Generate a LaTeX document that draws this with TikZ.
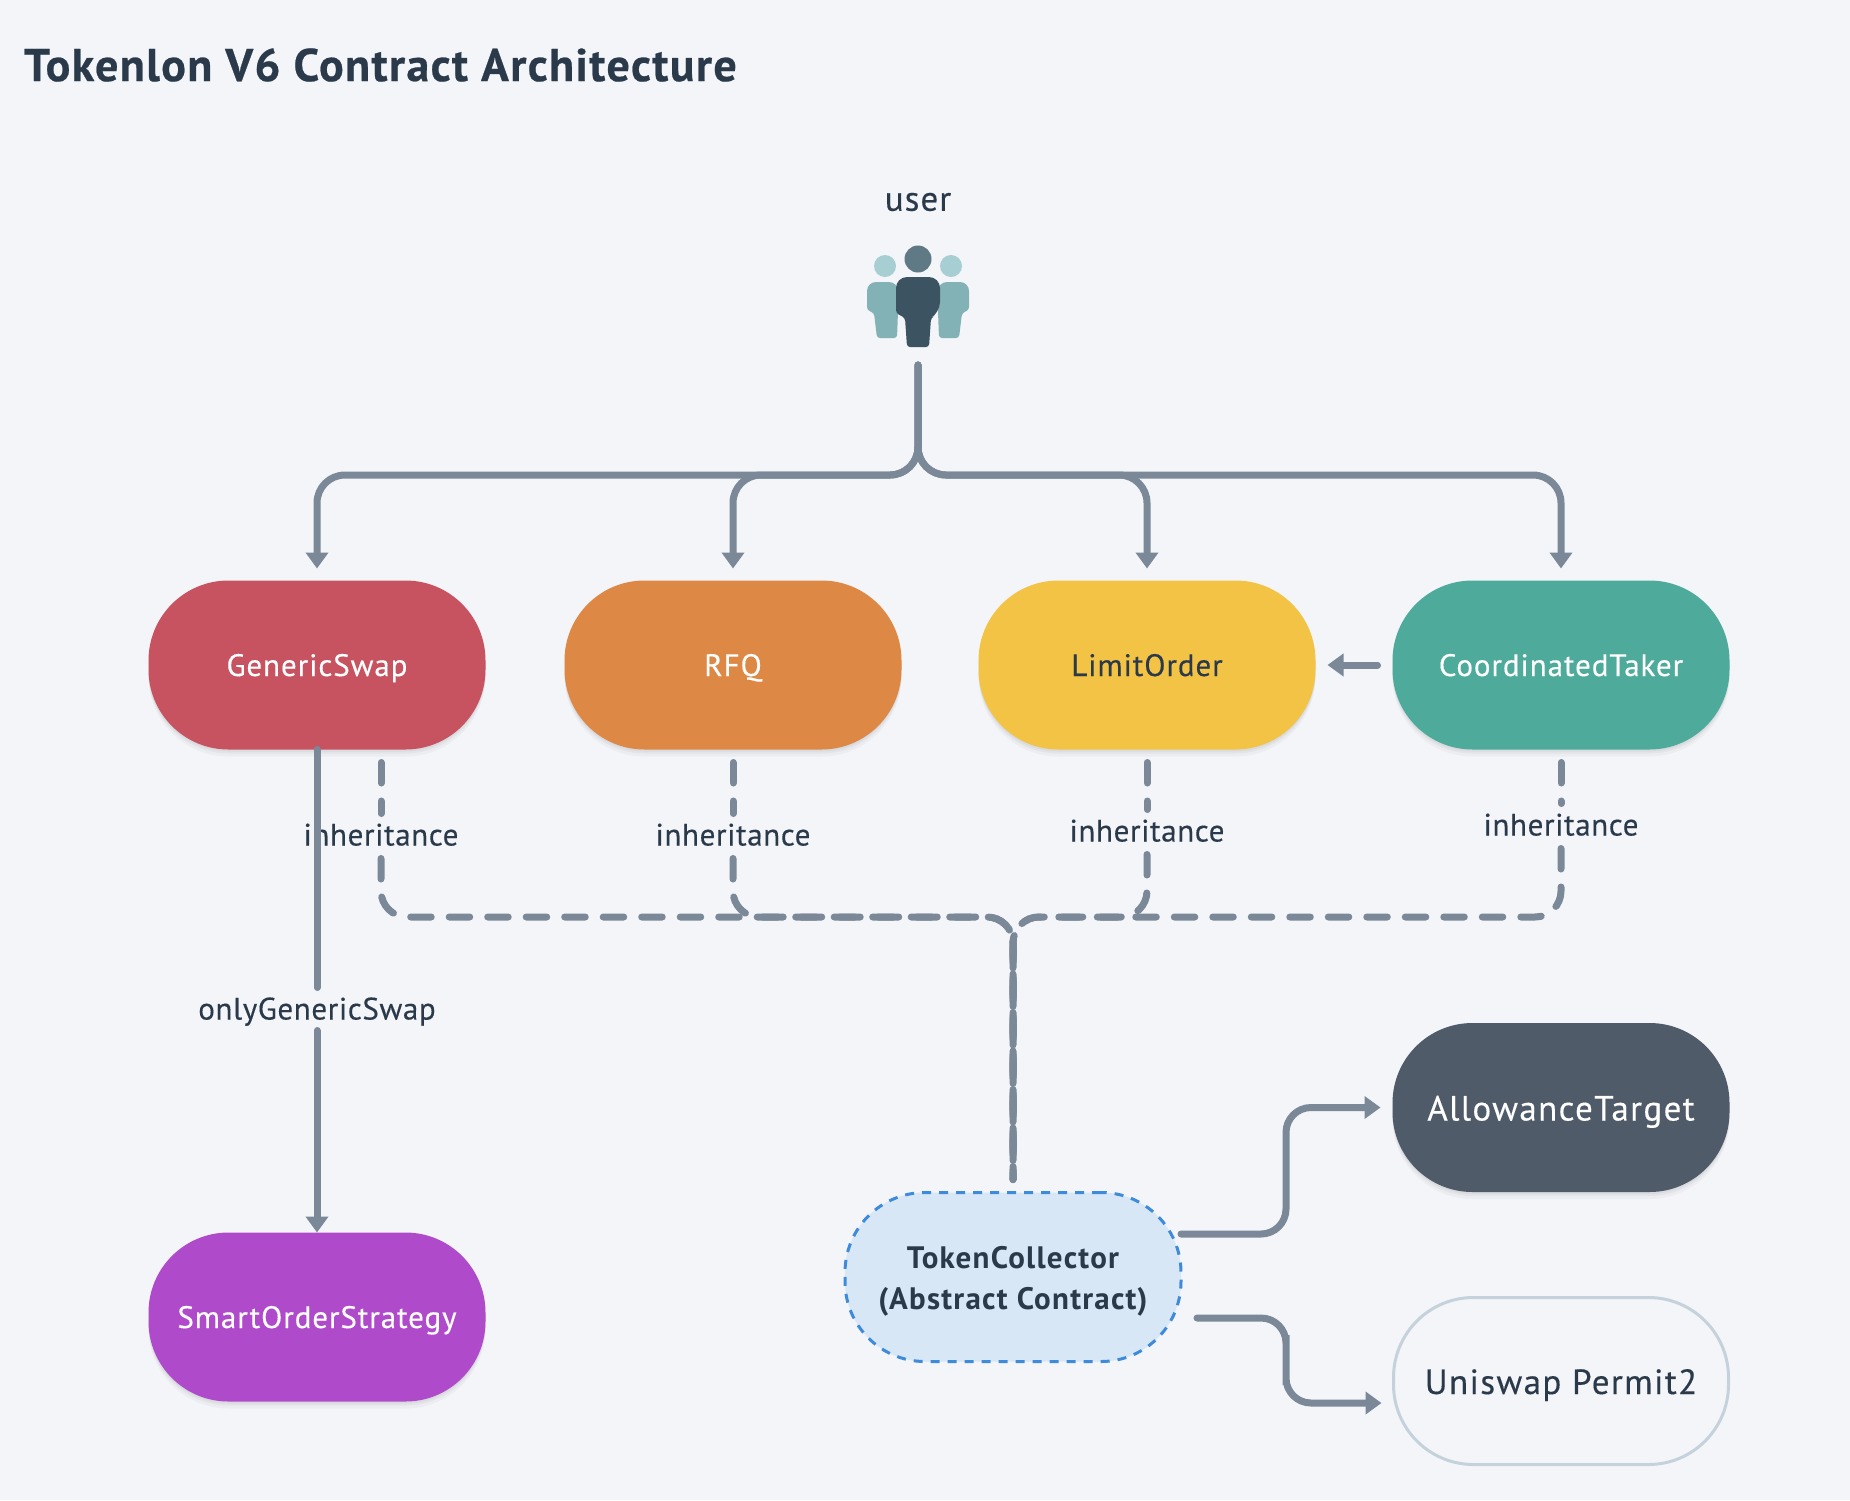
\documentclass[tikz,border=0pt]{standalone}
\usepackage{fontspec}
\setmainfont{PT Sans}
\usetikzlibrary{arrows.meta,positioning,shadows}

\definecolor{pagebg}{HTML}{F3F5F9}
\definecolor{inkdark}{HTML}{2B3A4A}
\definecolor{flowgray}{HTML}{7A8897}
\definecolor{swapred}{HTML}{C75260}
\definecolor{rfqorange}{HTML}{DE8845}
\definecolor{limityellow}{HTML}{F3C346}
\definecolor{takergreen}{HTML}{4EAB9C}
\definecolor{smartpurple}{HTML}{AF4BCB}
\definecolor{allowslate}{HTML}{4F5B69}
\definecolor{collectfill}{HTML}{D8E7F6}
\definecolor{collectline}{HTML}{3F8BDB}
\definecolor{permitline}{HTML}{C5D2DC}
\definecolor{sidehead}{HTML}{A7CED2}
\definecolor{sidebody}{HTML}{83B2B6}
\definecolor{midhead}{HTML}{5F7A84}
\definecolor{midbody}{HTML}{3C5361}

\begin{document}
\begin{tikzpicture}[x={(1pt,0pt)}, y={(0pt,-1pt)},
	>={Triangle[length=16pt,width=22pt]},
	inner sep=0pt, outer sep=0pt,
	pill/.style={minimum width=337pt, minimum height=169pt, rounded corners=80pt, text=white,
		text height=22pt, text depth=0pt,
		font=\fontsize{31}{37}\selectfont\addfontfeature{LetterSpace=3,FakeBold=0.3}},
	bigpill/.style={pill, text height=26pt, text depth=0pt,
		font=\fontsize{35}{42}\selectfont\addfontfeature{LetterSpace=4,FakeBold=0.3}},
	soft/.style={general shadow={fill=black, opacity=0.035, shadow yshift=-2pt},
		general shadow={fill=black, opacity=0.035, shadow yshift=-4pt},
		general shadow={fill=black, opacity=0.03, shadow yshift=-7pt}},
	flowline/.style={line width=7pt, color=flowgray, line cap=round, rounded corners=28pt},
	flow/.style={flowline, ->},
	inherit/.style={line width=7pt, color=flowgray, line cap=round, rounded corners=26pt,
		dash pattern=on 20.5pt off 18pt},
	tag/.style={text=inkdark, inner xsep=2pt, minimum height=43pt, text height=21pt, text depth=0pt,
		font=\fontsize{31}{37}\selectfont\addfontfeature{LetterSpace=2,FakeBold=0.3}},
	]
	% Page
	\fill[pagebg] (0,0) rectangle (1850,1500);
	\useasboundingbox (0,0) rectangle (1850,1500);
	
	\node[anchor=west, text=inkdark, font=\fontsize{46}{54}\selectfont\bfseries\addfontfeature{LetterSpace=3,FakeBold=0.5}] (title) at (24,65)
	{Tokenlon V6 Contract Architecture};
	
	% User icon
	\node[text=inkdark, font=\fontsize{35}{42}\selectfont\addfontfeature{LetterSpace=3,FakeBold=0.3}] (user) at (918,202) {user};
	\node[minimum width=90pt, minimum height=121pt] (usericon) at (918,304.5) {};
	\foreach \side in {-1,1}{
		\fill[sidehead] ({918+\side*33},266) circle (11);
		\fill[sidebody, rounded corners=9pt]
		({918+\side*51},310) -- ({918+\side*51},282) -- ({918+\side*20},282) -- ({918+\side*20},312)
		[rounded corners=3pt] -- ({918+\side*21},338) -- ({918+\side*41},338) -- ({918+\side*44},313) -- cycle;
	}
	\fill[midhead] (918,259) circle (13.5);
	\fill[midbody, rounded corners=11pt]
	(896,313) -- (896,277) -- (940,277) -- (940,313)
	[rounded corners=3pt] -- (931,318) -- (929,347) -- (907,347) -- (905,318) -- cycle;
	
	% Contracts
	\node[pill, soft, fill=swapred] (swap) at (317,665) {GenericSwap};
	\node[pill, soft, fill=rfqorange] (rfq) at (733,665) {RFQ};
	\node[pill, soft, fill=limityellow, text=inkdark] (limit) at (1147,665) {LimitOrder};
	\node[pill, soft, fill=takergreen] (taker) at (1561,665) {CoordinatedTaker};
	\node[pill, soft, fill=smartpurple] (smart) at (317,1317) {SmartOrderStrategy};
	\node[bigpill, soft, fill=allowslate] (allow) at (1561,1107.5) {AllowanceTarget};
	\node[bigpill, draw=permitline, line width=3pt, text=inkdark, minimum width=335pt, minimum height=167pt]
	(permit) at (1561,1381) {Uniswap Permit2};
	\node[minimum width=336pt, minimum height=169pt, rounded corners=80pt, fill=collectfill, draw=collectline,
	line width=3pt, dash pattern=on 9pt off 8pt, text=inkdark, align=center,
	font=\fontsize{31}{41}\selectfont\bfseries\addfontfeature{LetterSpace=4}]
	(collector) at (1013,1277) {\rule{0pt}{31pt}TokenCollector\\(Abstract Contract)};
	
	% Inheritance lines
	\node[tag] (inhswap) at (381,835) {inheritance};
	\node[tag] (inhrfq) at (733,835) {inheritance};
	\node[tag] (inhlimit) at (1147,831) {inheritance};
	\node[tag] (inhtaker) at (1561,825) {inheritance};
	\coordinate (swapdash) at ([xshift=64pt]swap.south);
	\coordinate (bus) at (1013,917);
	\foreach \from/\via in {swapdash/inhswap,rfq.south/inhrfq,limit.south/inhlimit,taker.south/inhtaker}{
		\draw[inherit, shorten <=13pt] (\from) -- (\via.north);
		\draw[inherit, shorten <=2pt, shorten >=13pt] (\via.south) |- (bus) -- (collector.north);
	}
	
	% Calls from the user
	\coordinate (userbus) at (918,475);
	\foreach \to in {swap,rfq,limit,taker}
	\draw[flow, shorten >=12pt] (usericon.south) -- (userbus) -| (\to.north);
	
	\draw[flow, shorten <=15pt, shorten >=12pt] (taker.west) -- (limit.east);
	\node[tag] (only) at (317,1009) {onlyGenericSwap};
	\draw[flowline] (swap.south) -- (only.north);
	\draw[flow] (only.south) -- (smart.north);
	
	% Token collector targets
	\coordinate (upstart) at ([yshift=43pt]collector.east);
	\coordinate (upelbow) at (1286,1170);
	\coordinate (downstart) at ([xshift=16pt,yshift=-41pt]collector.east);
	\coordinate (downelbow) at (1286,1360);
	\coordinate (downend) at ([yshift=-22pt]permit.west);
	\draw[flow, rounded corners=25pt, shorten >=12pt] (upstart) -| (upelbow) |- (allow.west);
	\draw[flow, rounded corners=25pt, shorten >=12pt] (downstart) -| (downelbow) |- (downend);
\end{tikzpicture}
\end{document}
